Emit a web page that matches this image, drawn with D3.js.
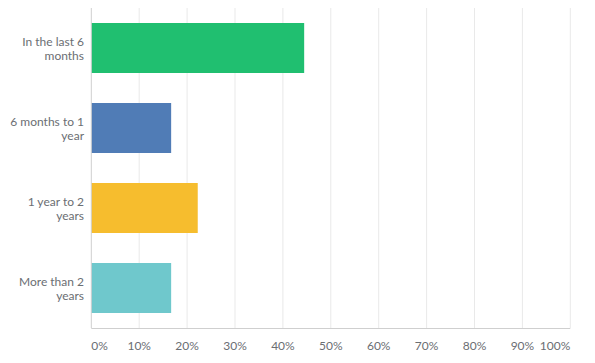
<!DOCTYPE html>
<html>
<head>
<meta charset="utf-8">
<script src="https://cdn.jsdelivr.net/npm/d3@7"></script>
<style>
  body { margin: 0; background: #fff; }
  svg { display: block; font-family: Lato, "Noto Sans", sans-serif; }
</style>
</head>
<body>
<svg id="chart" width="595" height="363"></svg>
<script>
const categories = [
  ["In the last 6", "months"],
  ["6 months to 1", "year"],
  ["1 year to 2", "years"],
  ["More than 2", "years"],
];
const values = [44.44, 16.67, 22.22, 16.67];
const colors = ["#20bf70", "#507cb6", "#f6bd2e", "#6fc8cc"];
const ticks = [0, 10, 20, 30, 40, 50, 60, 70, 80, 90, 100];

const margin = { top: 8, right: 25, bottom: 35, left: 91 };
const WIDTH = 595;
const HEIGHT = 363;

const svg = d3.select("#chart");

const xScale = d3
  .scaleLinear()
  .domain([0, 100])
  .range([margin.left + 0.3, WIDTH - margin.right + 0.3]);

const yScale = d3
  .scaleBand()
  .domain(d3.range(categories.length))
  .range([margin.top, HEIGHT - margin.bottom])
  .paddingInner(0.375)
  .paddingOuter(0.1875);

// gridlines
svg
  .append("g")
  .selectAll("line")
  .data(ticks.slice(1))
  .join("line")
  .attr("x1", (d) => xScale(d))
  .attr("x2", (d) => xScale(d))
  .attr("y1", margin.top)
  .attr("y2", HEIGHT - margin.bottom)
  .attr("stroke", "#e9e9e9")
  .attr("stroke-width", 1);

// bars
svg
  .append("g")
  .selectAll("rect")
  .data(values)
  .join("rect")
  .attr("x", xScale(0))
  .attr("y", (d, i) => yScale(i))
  .attr("width", (d) => xScale(d) - xScale(0))
  .attr("height", yScale.bandwidth())
  .attr("fill", (d, i) => colors[i]);

// axes lines
svg
  .append("line")
  .attr("x1", xScale(0))
  .attr("x2", xScale(0))
  .attr("y1", margin.top)
  .attr("y2", HEIGHT - margin.bottom)
  .attr("stroke", "#cfcfcf");

svg
  .append("line")
  .attr("x1", xScale(0))
  .attr("x2", xScale(100))
  .attr("y1", HEIGHT - margin.bottom + 0.5)
  .attr("y2", HEIGHT - margin.bottom + 0.5)
  .attr("stroke", "#cfcfcf");

// x tick labels
svg
  .append("g")
  .selectAll("text")
  .data(ticks)
  .join("text")
  .attr("x", (d) => xScale(d))
  .attr("y", HEIGHT - margin.bottom + 22)
  .attr("text-anchor", (d) => (d === 0 ? "start" : d === 100 ? "end" : "middle"))
  .attr("fill", "#6b6e73")
  .attr("font-size", 12)
  .text((d) => `${d}%`);

// category labels
const labels = svg
  .append("g")
  .selectAll("text")
  .data(categories)
  .join("text")
  .attr("x", margin.left - 7)
  .attr("y", (d, i) => yScale(i) + yScale.bandwidth() / 2 - 2)
  .attr("text-anchor", "end")
  .attr("fill", "#6b6e73")
  .attr("font-size", 12);

labels
  .selectAll("tspan")
  .data((d) => d)
  .join("tspan")
  .attr("x", margin.left - 7)
  .attr("dy", (d, i) => (i === 0 ? 0 : 13.5))
  .text((d) => d);
</script>
</body>
</html>
